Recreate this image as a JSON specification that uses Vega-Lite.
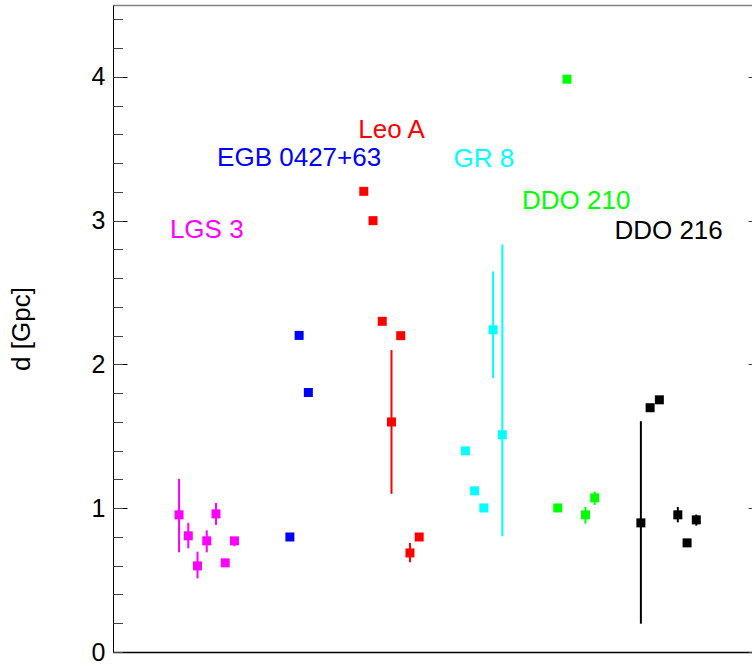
{
  "$schema": "https://vega.github.io/schema/vega-lite/v6.json",
  "width": 639,
  "height": 647,
  "autosize": {"type": "none"},
  "padding": {"left": 113, "top": 5, "right": 0, "bottom": 12},
  "config": {"view": {"stroke": null}, "font": "Liberation Sans"},
  "datasets": {
    "pts": [
      {"galaxy": "LGS 3", "x": 7, "d": 0.954, "lo": 0.693, "hi": 1.204},
      {"galaxy": "LGS 3", "x": 8, "d": 0.808, "lo": 0.721, "hi": 0.898},
      {"galaxy": "LGS 3", "x": 9, "d": 0.599, "lo": 0.512, "hi": 0.698},
      {"galaxy": "LGS 3", "x": 10, "d": 0.773, "lo": 0.693, "hi": 0.846},
      {"galaxy": "LGS 3", "x": 11, "d": 0.961, "lo": 0.884, "hi": 1.037},
      {"galaxy": "LGS 3", "x": 12, "d": 0.620},
      {"galaxy": "LGS 3", "x": 13, "d": 0.773, "lo": 0.735, "hi": 0.78},
      {"galaxy": "EGB 0427+63", "x": 19, "d": 0.80},
      {"galaxy": "EGB 0427+63", "x": 20, "d": 2.202},
      {"galaxy": "EGB 0427+63", "x": 21, "d": 1.805},
      {"galaxy": "Leo A", "x": 27, "d": 3.204},
      {"galaxy": "Leo A", "x": 28, "d": 3.0},
      {"galaxy": "Leo A", "x": 29, "d": 2.30},
      {"galaxy": "Leo A", "x": 30, "d": 1.60, "lo": 1.10, "hi": 2.10},
      {"galaxy": "Leo A", "x": 31, "d": 2.20},
      {"galaxy": "Leo A", "x": 32, "d": 0.689, "lo": 0.624, "hi": 0.759},
      {"galaxy": "Leo A", "x": 33, "d": 0.80},
      {"galaxy": "GR 8", "x": 38, "d": 1.399},
      {"galaxy": "GR 8", "x": 39, "d": 1.121},
      {"galaxy": "GR 8", "x": 40, "d": 1.002},
      {"galaxy": "GR 8", "x": 41, "d": 2.241, "lo": 1.905, "hi": 2.647},
      {"galaxy": "GR 8", "x": 42, "d": 1.511, "lo": 0.805, "hi": 2.835},
      {"galaxy": "DDO 210", "x": 48, "d": 1.002},
      {"galaxy": "DDO 210", "x": 49, "d": 3.984},
      {"galaxy": "DDO 210", "x": 51, "d": 0.954, "lo": 0.893, "hi": 1.009},
      {"galaxy": "DDO 210", "x": 52, "d": 1.072, "lo": 1.023, "hi": 1.116},
      {"galaxy": "DDO 216", "x": 57, "d": 0.898, "lo": 0.197, "hi": 1.605},
      {"galaxy": "DDO 216", "x": 58, "d": 1.699},
      {"galaxy": "DDO 216", "x": 59, "d": 1.754},
      {"galaxy": "DDO 216", "x": 61, "d": 0.954, "lo": 0.902, "hi": 1.009},
      {"galaxy": "DDO 216", "x": 62, "d": 0.759},
      {"galaxy": "DDO 216", "x": 63, "d": 0.919, "lo": 0.879, "hi": 0.956}
    ],
    "labels": [
      {"galaxy": "LGS 3", "x": 10, "d": 2.877},
      {"galaxy": "EGB 0427+63", "x": 20, "d": 3.380},
      {"galaxy": "Leo A", "x": 30, "d": 3.578},
      {"galaxy": "GR 8", "x": 40, "d": 3.376},
      {"galaxy": "DDO 210", "x": 50, "d": 3.079},
      {"galaxy": "DDO 216", "x": 60, "d": 2.870}
    ]
  },
  "resolve": {"scale": {"x": "shared", "y": "shared", "color": "shared"}, "axis": {"x": "independent", "y": "independent"}},
  "layer": [
    {
      "data": {"name": "pts"},
      "transform": [{"filter": "isValid(datum.lo)"}],
      "mark": {"type": "rule", "strokeWidth": 2},
      "encoding": {
        "x": {"field": "x", "type": "quantitative", "scale": {"domain": [-0.15, 69.03], "nice": false, "zero": false},
              "axis": {"orient": "bottom", "ticks": false, "labels": false, "title": null, "grid": false, "domainColor": "#000000", "domainWidth": 1.5}},
        "y": {"field": "lo", "type": "quantitative", "scale": {"domain": [0, 4.5], "nice": false},
              "axis": {"orient": "left", "values": [0, 1, 2, 3, 4], "format": "d", "tickSize": -14, "tickColor": "#000000", "labelPadding": 22,
                       "labelFontSize": 25, "labelColor": "#000000", "labelFont": "Liberation Sans", "grid": false,
                       "domainColor": "#000000", "title": "d [Gpc]", "titleFontSize": 26, "titleFontWeight": "normal",
                       "titleFont": "Liberation Sans", "titleColor": "#000000", "titlePadding": 57}},
        "y2": {"field": "hi"},
        "color": {"field": "galaxy", "type": "nominal", "legend": null,
                  "scale": {"domain": ["LGS 3", "EGB 0427+63", "Leo A", "GR 8", "DDO 210", "DDO 216"],
                            "range": ["#ff00ff", "#0000ff", "#ff0000", "#00ffff", "#00ff00", "#000000"]}}
      }
    },
    {
      "data": {"name": "pts"},
      "mark": {"type": "point", "shape": "square", "filled": true, "size": 81, "opacity": 1, "strokeWidth": 0},
      "encoding": {
        "x": {"field": "x", "type": "quantitative",
              "axis": {"orient": "top", "ticks": false, "labels": false, "title": null, "grid": false, "domainColor": "#808080", "domainWidth": 1.5}},
        "y": {"field": "d", "type": "quantitative",
              "axis": {"orient": "left", "values": [0, 0.2, 0.4, 0.6, 0.8, 1, 1.2, 1.4, 1.6, 1.8, 2, 2.2, 2.4, 2.6, 2.8, 3, 3.2, 3.4, 3.6, 3.8, 4, 4.2, 4.4],
                       "labels": false, "tickSize": -9.5, "tickColor": "#444444", "domain": false, "grid": false, "title": null}},
        "color": {"field": "galaxy", "type": "nominal", "legend": null}
      }
    },
    {
      "data": {"name": "labels"},
      "mark": {"type": "text", "align": "center", "baseline": "alphabetic", "fontSize": 26, "font": "Liberation Sans"},
      "encoding": {
        "x": {"field": "x", "type": "quantitative", "axis": null},
        "y": {"field": "d", "type": "quantitative",
              "axis": {"orient": "right", "values": [0, 1, 2, 3, 4], "labels": false, "tickSize": -4, "tickColor": "#444444", "domain": false, "grid": false, "title": null}},
        "text": {"field": "galaxy"},
        "color": {"field": "galaxy", "type": "nominal", "legend": null}
      }
    }
  ]
}
